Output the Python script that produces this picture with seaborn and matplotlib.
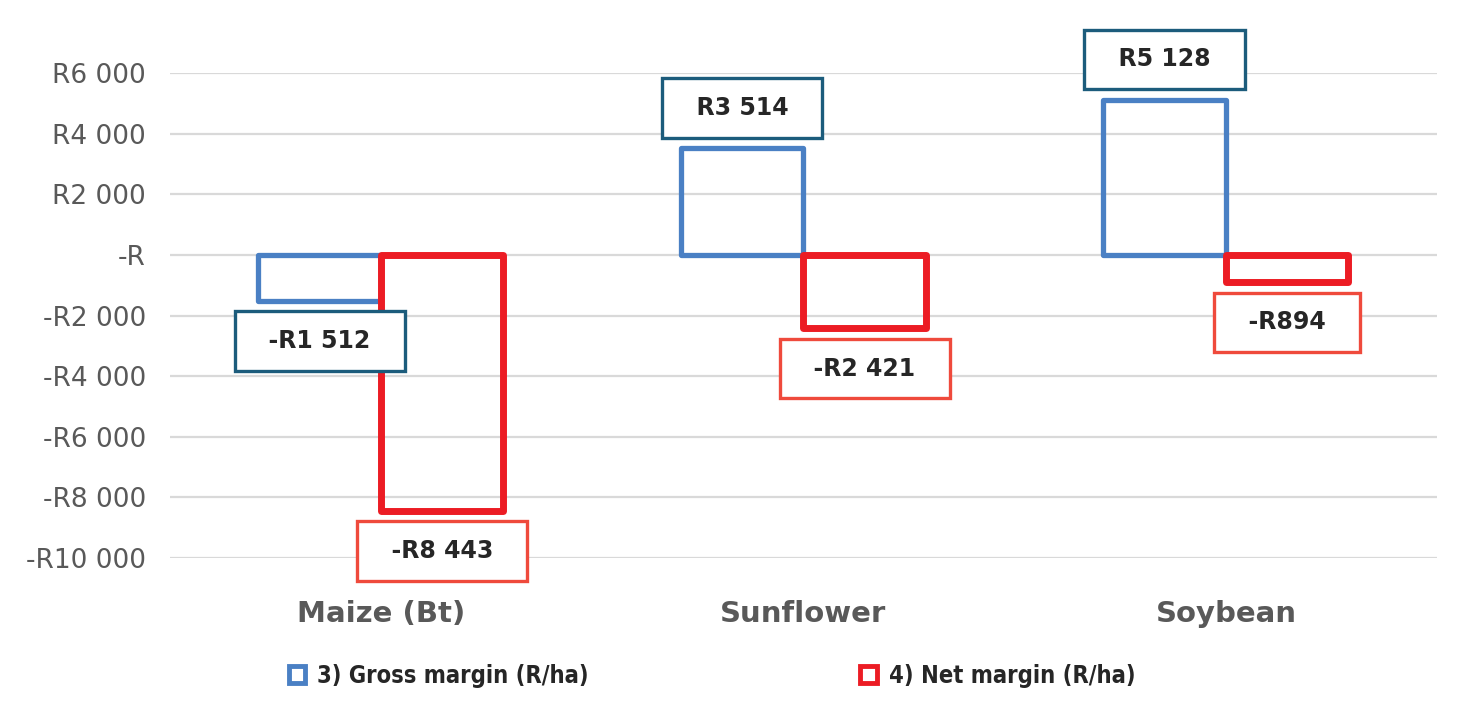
import pandas as pd
import matplotlib
matplotlib.use('Agg')
import matplotlib.pyplot as plt
import seaborn as sns
from matplotlib.patches import Patch

# Chart data
crops = ['Maize (Bt)', 'Sunflower', 'Soybean']
series = ['3) Gross margin (R/ha)', '4) Net margin (R/ha)']
gross = [-1512, 3514, 5128]
net = [-8443, -2421, -894]
value_labels = {series[0]: ['-R1 512', 'R3 514', 'R5 128'],
                series[1]: ['-R8 443', '-R2 421', '-R894']}
y_ticks = [-10000, -8000, -6000, -4000, -2000, 0, 2000, 4000, 6000]
y_tick_labels = ['-R10 000', '-R8 000', '-R6 000', '-R4 000', '-R2 000',
                 '-R', 'R2 000', 'R4 000', 'R6 000']

bar_colors = ['#4a80c4', '#ec1c24']
box_colors = ['#1c5c7c', '#ef4a3c']

df = pd.DataFrame({'Crop': crops * 2,
                   'Series': [series[0]] * 3 + [series[1]] * 3,
                   'Value': gross + net})

sns.set_style('white')
plt.rcParams['font.family'] = ['DejaVu Sans']

fig = plt.figure(figsize=(14.62, 7.04), dpi=100)
ax = fig.add_axes([0.116, 0.2074, 0.867, 0.6888])

sns.barplot(data=df, x='Crop', y='Value', hue='Series', order=crops,
            hue_order=series, palette=bar_colors, fill=False, width=0.58,
            legend=False, ax=ax)

# Thicker outline on the net margin bars
for cont, lw, col in zip(ax.containers, [3.8, 5.0], bar_colors):
    for p in cont:
        p.set_linewidth(lw)
        p.set_edgecolor(col)
        p.set_joinstyle('round')

ax.set_ylim(-10000, 6000)
ax.set_yticks(y_ticks)
ax.set_yticklabels(y_tick_labels, fontsize=19, color='#595959')
ax.yaxis.grid(True, color='#d9d9d9', linewidth=1.6)
ax.set_axisbelow(True)
for s in ax.spines.values():
    s.set_visible(False)
ax.tick_params(axis='y', length=0, pad=17)
ax.tick_params(axis='x', length=0, pad=30)
for t in ax.get_xticklabels():
    t.set_fontsize(21)
    t.set_fontweight('bold')
    t.set_color('#595959')
ax.set_xlabel('')
ax.set_ylabel('')

# Value label boxes
for cont, s, bc in zip(ax.containers, series, box_colors):
    for p, lab in zip(cont, value_labels[s]):
        x = p.get_x() + p.get_width() / 2
        val = p.get_y() + p.get_height()
        off = 29 if val >= 0 else -29
        ax.annotate('  ' + lab + '  ', xy=(x, val), xytext=(0, off),
                    textcoords='offset points', ha='center', va='center',
                    fontsize=17, fontweight='bold', color='#262626',
                    annotation_clip=False,
                    bbox=dict(boxstyle='square,pad=0.75', facecolor='white',
                              edgecolor=bc, linewidth=2.4))

handles = [Patch(facecolor='white', edgecolor=c, linewidth=3.5) for c in bar_colors]
leg = fig.legend(handles, series, loc='center', bbox_to_anchor=(0.487, 0.04),
                 ncol=2, frameon=False, columnspacing=11.5, handlelength=0.7,
                 handleheight=0.7, handletextpad=0.5,
                 prop={'family': ['DejaVu Sans'], 'stretch': 'condensed',
                       'weight': 'bold', 'size': 17})
for t in leg.get_texts():
    t.set_color('#262626')

fig.savefig('out.png', dpi=100)
